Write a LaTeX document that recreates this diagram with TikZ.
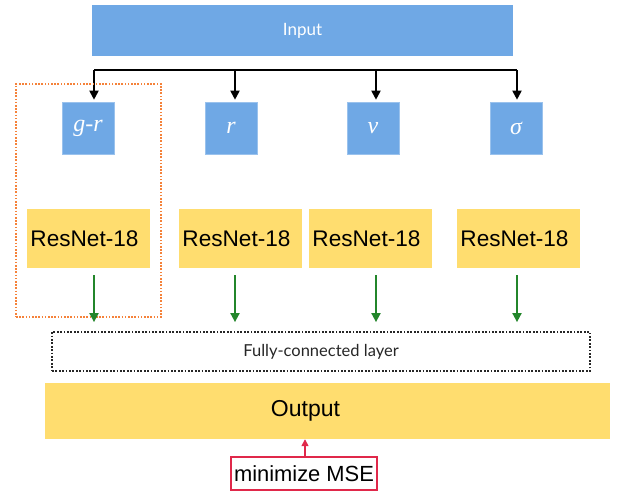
\documentclass[tikz,border=0pt]{standalone}
\usepackage{fontspec}
\setmainfont{Liberation Sans}
\newfontfamily\symfont{Liberation Serif}
\newfontfamily\thinfont{Lato}
\usetikzlibrary{arrows.meta}
\definecolor{boxblue}{HTML}{6FA8E5}
\definecolor{boxyellow}{HTML}{FFDD6F}
\definecolor{arrgreen}{HTML}{23862B}
\definecolor{dotorange}{HTML}{F5823A}
\definecolor{msered}{HTML}{E0284A}
\tikzset{
  bluebox/.style={fill=boxblue, draw=boxblue!70!white, line width=0.6pt, inner sep=0pt, minimum width=52pt, minimum height=52pt, text=white, font=\symfont\itshape\fontsize{24}{28}\selectfont},
  resbox/.style={fill=boxyellow, draw=none, inner sep=0pt, minimum width=123pt, minimum height=59pt, font=\fontsize{22.6}{27}\selectfont},
  blkarr/.style={draw=black, line width=1.8pt, -{Triangle[length=9pt,width=9pt]}},
  grnarr/.style={draw=arrgreen, line width=1.8pt, -{Triangle[length=9pt,width=9pt]}},
}
\begin{document}
\begin{tikzpicture}[x=1pt,y=-1pt]
\useasboundingbox (0,0) rectangle (620,493);
% input
\node[fill=boxblue, inner sep=0pt, minimum width=421pt, minimum height=51pt, text=white, font=\thinfont\fontsize{17}{20}\selectfont] (in) at (302.5,30.5) {Input};
% bar
\coordinate (b1) at (94,70);
\coordinate (b2) at (235,70);
\coordinate (b3) at (376,70);
\coordinate (b4) at (517,70);
\draw[line width=1.8pt] (b1) -- (b4);
% blue boxes
\node[bluebox] (gr) at (88,128) {g-r};
\node[bluebox] (r) at (231,128) {r};
\node[bluebox] (v) at (373,128) {ν};
\node[bluebox] (s) at (516,128) {σ};
\draw[blkarr, shorten >=2pt] (b1) -- (b1 |- gr.north);
\draw[blkarr, shorten >=2pt] (b2) -- (b2 |- r.north);
\draw[blkarr, shorten >=2pt] (b3) -- (b3 |- v.north);
\draw[blkarr, shorten >=2pt] (b4) -- (b4 |- s.north);
% resnets
\node[resbox] (rn1) at (88.5,238.5) {\hspace*{-8pt}ResNet-18};
\node[resbox] (rn2) at (240.5,238.5) {\hspace*{-8pt}ResNet-18};
\node[resbox] (rn3) at (370.5,238.5) {\hspace*{-8pt}ResNet-18};
\node[resbox] (rn4) at (518.5,238.5) {\hspace*{-8pt}ResNet-18};
% orange group
\node[draw=dotorange, line width=1.6pt, dash pattern=on 1.6pt off 1.6pt, inner sep=0pt, minimum width=145pt, minimum height=233pt] (grp) at (88.5,200.5) {};
% FC
\node[draw=black!85, line width=1.8pt, dash pattern=on 1.8pt off 1.6pt, inner sep=0pt, minimum width=538pt, minimum height=39pt, font=\thinfont\fontsize{16.5}{19}\selectfont, text=black!85] (fc) at (321,351.5) {Fully-connected layer};
\draw[grnarr, shorten <=7pt, shorten >=9pt] (b1 |- rn1.south) -- (b1 |- fc.north);
\draw[grnarr, shorten <=7pt, shorten >=9pt] (b2 |- rn2.south) -- (b2 |- fc.north);
\draw[grnarr, shorten <=7pt, shorten >=9pt] (b3 |- rn3.south) -- (b3 |- fc.north);
\draw[grnarr, shorten <=7pt, shorten >=9pt] (b4 |- rn4.south) -- (b4 |- fc.north);
% output
\node[fill=boxyellow, inner sep=0pt, minimum width=565pt, minimum height=56pt, font=\fontsize{23}{27}\selectfont] (out) at (327.5,411) {\hspace*{-44pt}Output};
% mse
\node[draw=msered, line width=1.5pt, fill=white, inner sep=0pt, minimum width=146pt, minimum height=33pt, font=\fontsize{21.9}{26}\selectfont] (mse) at (304,473.5) {minimize MSE};
\draw[draw=msered, line width=1.5pt, -{Triangle[length=7pt,width=7pt]}] (mse.north -| 305,0) -- (out.south -| 305,0);
\end{tikzpicture}
\end{document}
